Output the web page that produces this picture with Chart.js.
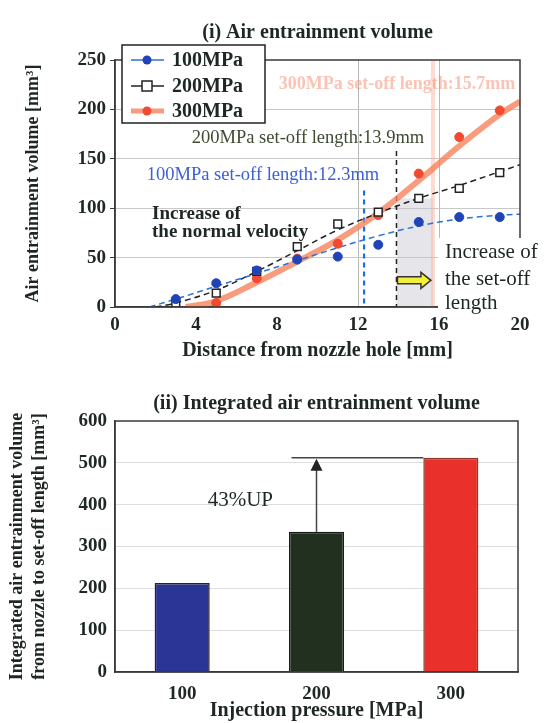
<!DOCTYPE html>
<html><head><meta charset="utf-8">
<script src="https://cdn.jsdelivr.net/npm/chart.js@4.4.0/dist/chart.umd.min.js"></script>
<style>
html,body{margin:0;padding:0;background:#fff;width:550px;height:723px;overflow:hidden;}
#c1{position:absolute;left:0;top:0;}
#c2{position:absolute;left:0;top:370px;}
</style></head><body>
<canvas id="c1" width="550" height="370"></canvas>
<canvas id="c2" width="550" height="353"></canvas>
<script>
// ---------- data ----------
const distances = [3, 5, 7, 9, 11, 13, 15, 17, 19];
const vol100 = [8, 24, 37, 48, 51, 63, 86, 91, 91];
const vol200 = [4, 14, 36, 61, 84, 96, 110, 120, 136];
const vol300 = [0, 4, 29, 49, 64, 93, 135, 172, 199];
const trendX100 = [1.7, 3, 5, 7, 9, 11, 13, 15, 17, 19, 20];
const trend100  = [0, 8, 21, 34, 47, 60, 72, 82, 89, 93, 94];
const trendX200 = [2, 3, 5, 7, 9, 11, 13, 15, 17, 19, 20];
const trend200  = [0, 4, 17, 36, 57, 78, 95, 110, 123, 137, 144];
const trendX300 = [3.5, 5, 7, 9, 11, 13, 15, 17, 19, 20];
const trend300  = [0, 6, 25, 46, 68, 95, 128, 163, 195, 208];
const setoff100 = 12.3, setoff200 = 13.9, setoff300 = 15.7;
const seriesNames = ['100MPa', '200MPa', '300MPa'];
const xTicks1 = [0, 4, 8, 12, 16, 20];
const yTicks1 = [0, 50, 100, 150, 200, 250];
const pressures = ['100', '200', '300'];
const integrated = [213, 335, 512];
const yTicks2 = [0, 100, 200, 300, 400, 500, 600];

// ---------- styles ----------
const SERIF = "'Liberation Serif','Times New Roman',serif";
Chart.defaults.font.family = SERIF;
Chart.defaults.color = '#1e2424';
const TXT = '#1e2626';
const C_BLUE = '#1f44b8', C_BLUE_LINE = '#2a72d8';
const C_BLACK = '#222';
const C_RED = '#f04a30', C_ORANGE = 'rgba(247,128,88,0.78)';
const tickFont = {size: 19, weight: 'bold'};
const axisTitleFont = {size: 20, weight: 'bold'};

const pts = (xs, ys) => xs.map((x, i) => ({x: x, y: ys[i]}));

function frame(chart) {
  const a = chart.chartArea, ctx = chart.ctx;
  ctx.save();
  ctx.strokeStyle = '#3a3a3a'; ctx.lineWidth = 1.5;
  ctx.strokeRect(a.left, a.top, a.right - a.left, a.bottom - a.top);
  ctx.restore();
}

// ---------- top chart annotations ----------
const topPlugin = {
  id: 'topAnn',
  beforeDatasetsDraw(chart) {
    const ctx = chart.ctx, xs = chart.scales.x, ys = chart.scales.y, a = chart.chartArea;
    ctx.save();
    ctx.fillStyle = 'rgba(200,200,208,0.45)';
    const x1 = xs.getPixelForValue(setoff200), x2 = xs.getPixelForValue(setoff300);
    ctx.fillRect(x1, ys.getPixelForValue(110), x2 - x1, ys.getPixelForValue(0) - ys.getPixelForValue(110));
    ctx.strokeStyle = 'rgba(250,175,150,0.45)'; ctx.lineWidth = 4;
    ctx.beginPath(); ctx.moveTo(x2, a.top); ctx.lineTo(x2, a.bottom); ctx.stroke();
    ctx.font = 'bold 18px ' + SERIF;
    ctx.fillStyle = 'rgba(245,135,105,0.5)';
    ctx.textAlign = 'center'; ctx.textBaseline = 'middle';
    ctx.fillText('300MPa set-off length:15.7mm', 397, 84);
    ctx.setLineDash([5, 4]);
    ctx.strokeStyle = '#222'; ctx.lineWidth = 1.5;
    ctx.beginPath(); ctx.moveTo(x1, ys.getPixelForValue(158)); ctx.lineTo(x1, a.bottom); ctx.stroke();
    const xb = xs.getPixelForValue(setoff100);
    ctx.strokeStyle = '#1a6fe0'; ctx.lineWidth = 2.2;
    ctx.beginPath(); ctx.moveTo(xb, ys.getPixelForValue(118)); ctx.lineTo(xb, a.bottom); ctx.stroke();
    ctx.restore();
  },
  afterDatasetsDraw(chart) {
    const ctx = chart.ctx;
    ctx.save();
    ctx.textBaseline = 'middle';
    ctx.textAlign = 'center';
    ctx.font = '18.5px ' + SERIF;
    ctx.fillStyle = '#3e4a32';
    ctx.fillText('200MPa set-off length:13.9mm', 308, 138);
    ctx.fillStyle = '#3a5fd6';
    ctx.fillText('100MPa set-off length:12.3mm', 263, 175);
    ctx.textAlign = 'left';
    ctx.fillStyle = TXT;
    ctx.font = 'bold 19px ' + SERIF;
    ctx.fillText('Increase of', 152, 214);
    ctx.fillText('the normal velocity', 152, 232);
    ctx.restore();
  },
  afterDraw(chart) {
    const ctx = chart.ctx, xs = chart.scales.x, ys = chart.scales.y;
    frame(chart);
    ctx.save();
    ctx.fillStyle = '#fff';
    ctx.fillRect(438, 238, 112, 75);
    ctx.fillStyle = TXT;
    ctx.font = '21px ' + SERIF;
    ctx.textAlign = 'left'; ctx.textBaseline = 'middle';
    ctx.fillText('Increase of', 445, 252);
    ctx.fillText('the set-off', 445, 279);
    ctx.fillText('length', 445, 303);
    // yellow block arrow
    const ax1 = xs.getPixelForValue(setoff200) + 1, ax2 = xs.getPixelForValue(setoff300) - 2;
    const ay = ys.getPixelForValue(27);
    ctx.beginPath();
    ctx.moveTo(ax1, ay - 3.5); ctx.lineTo(ax2 - 10, ay - 3.5); ctx.lineTo(ax2 - 10, ay - 8);
    ctx.lineTo(ax2, ay); ctx.lineTo(ax2 - 10, ay + 8); ctx.lineTo(ax2 - 10, ay + 3.5);
    ctx.lineTo(ax1, ay + 3.5); ctx.closePath();
    ctx.fillStyle = '#f2f03a'; ctx.fill();
    ctx.strokeStyle = '#333'; ctx.lineWidth = 1.5; ctx.stroke();
    // legend
    const lx = 122, ly = 45, lw = 143, lh = 78;
    ctx.fillStyle = '#fff'; ctx.fillRect(lx, ly, lw, lh);
    ctx.strokeStyle = '#222'; ctx.lineWidth = 1.5; ctx.strokeRect(lx, ly, lw, lh);
    const rows = [60, 86, 111];
    const lineStyles = [{c: C_BLUE_LINE, w: 1.5}, {c: C_BLACK, w: 1.5}, {c: C_ORANGE, w: 5}];
    ctx.font = 'bold 20px ' + SERIF;
    for (let i = 0; i < 3; i++) {
      const y = rows[i];
      ctx.strokeStyle = lineStyles[i].c; ctx.lineWidth = lineStyles[i].w;
      ctx.beginPath(); ctx.moveTo(131, y); ctx.lineTo(164, y); ctx.stroke();
      if (i === 1) {
        ctx.fillStyle = '#fff'; ctx.fillRect(142, y - 5, 10, 10);
        ctx.strokeStyle = C_BLACK; ctx.lineWidth = 1.5; ctx.strokeRect(142, y - 5, 10, 10);
      } else {
        ctx.fillStyle = i === 0 ? C_BLUE : C_RED;
        ctx.beginPath(); ctx.arc(147, y, 4.5, 0, Math.PI * 2); ctx.fill();
      }
      ctx.fillStyle = TXT;
      ctx.fillText(seriesNames[i], 172, y + 1);
    }
    ctx.restore();
  }
};

new Chart(document.getElementById('c1'), {
  type: 'scatter',
  data: {
    datasets: [
      {label: seriesNames[0], data: pts(distances, vol100), pointStyle: 'circle', pointRadius: 4.5,
       backgroundColor: C_BLUE, borderColor: C_BLUE, borderWidth: 1},
      {label: seriesNames[1], data: pts(distances, vol200), pointStyle: 'rect', pointRadius: 5.5,
       backgroundColor: '#fff', borderColor: C_BLACK, borderWidth: 1.5},
      {label: seriesNames[2], data: pts(distances, vol300), pointStyle: 'circle', pointRadius: 4.5,
       backgroundColor: C_RED, borderColor: C_RED, borderWidth: 1},
      {label: 'trend100', data: pts(trendX100, trend100), showLine: true, pointRadius: 0,
       borderColor: C_BLUE_LINE, borderWidth: 1.5, borderDash: [6, 4], tension: 0.4},
      {label: 'trend200', data: pts(trendX200, trend200), showLine: true, pointRadius: 0,
       borderColor: C_BLACK, borderWidth: 1.5, borderDash: [6, 4], tension: 0.4},
      {label: 'trend300', data: pts(trendX300, trend300), showLine: true, pointRadius: 0,
       borderColor: C_ORANGE, borderWidth: 6, tension: 0.4}
    ]
  },
  options: {
    responsive: false, animation: false, devicePixelRatio: 1,
    layout: {padding: {left: 23, right: 30, top: 0, bottom: 0}},
    plugins: {
      legend: {display: false}, tooltip: {enabled: false},
      title: {display: true, text: '(i) Air entrainment volume', fullSize: false,
        font: {size: 20, weight: 'bold'}, color: TXT, padding: {top: 21, bottom: 15}}
    },
    scales: {
      x: {
        type: 'linear', min: 0, max: 20,
        afterBuildTicks: s => { s.ticks = xTicks1.map(v => ({value: v})); },
        afterFit: s => { s.height = 63; },
        ticks: {font: tickFont, color: TXT, padding: 7},
        grid: {drawTicks: false,
          color: c => (c.tick && (c.tick.value === 12 || c.tick.value === 16)) ? '#b8b8b8' : 'rgba(0,0,0,0)'},
        border: {display: true, color: '#3a3a3a', width: 1.5},
        title: {display: true, text: 'Distance from nozzle hole [mm]', font: axisTitleFont, color: TXT,
          padding: {top: 0, bottom: 7}}
      },
      y: {
        min: 0, max: 250,
        afterBuildTicks: s => { s.ticks = yTicks1.map(v => ({value: v})); },
        afterFit: s => { s.width = 92; },
        ticks: {font: tickFont, color: TXT, padding: 4},
        grid: {tickLength: 5, tickColor: '#3a3a3a',
          color: c => (c.tick && c.tick.value > 0 && c.tick.value < 250) ? '#c8c8c8' : 'rgba(0,0,0,0)'},
        border: {display: true, color: '#3a3a3a', width: 1.5},
        title: {display: true, text: 'Air entrainment volume [mm³]', font: {size: 18, weight: 'bold'}, color: TXT,
          padding: {top: 0, bottom: 0}}
      }
    }
  },
  plugins: [topPlugin]
});

// ---------- bottom chart ----------
const barPlugin = {
  id: 'barAnn',
  afterDatasetsDraw(chart) {
    const ctx = chart.ctx, xs = chart.scales.x, ys = chart.scales.y;
    const meta = chart.getDatasetMeta(0);
    const red = meta.data[2], green = meta.data[1];
    const yTop = ys.getPixelForValue(integrated[2]);
    ctx.save();
    ctx.strokeStyle = '#444'; ctx.lineWidth = 1.5;
    ctx.beginPath(); ctx.moveTo(green.x - 25, yTop); ctx.lineTo(red.x - red.width / 2, yTop); ctx.stroke();
    ctx.beginPath(); ctx.moveTo(green.x, ys.getPixelForValue(integrated[1])); ctx.lineTo(green.x, yTop + 10); ctx.stroke();
    ctx.fillStyle = '#222';
    ctx.beginPath(); ctx.moveTo(green.x, yTop + 1); ctx.lineTo(green.x - 6, yTop + 13); ctx.lineTo(green.x + 6, yTop + 13);
    ctx.closePath(); ctx.fill();
    ctx.font = '21px ' + SERIF; ctx.fillStyle = TXT;
    ctx.textAlign = 'center'; ctx.textBaseline = 'middle';
    ctx.fillText('43%UP', (xs.getPixelForValue(0) + xs.getPixelForValue(1)) / 2 - 9, ys.getPixelForValue(411));
    ctx.restore();
  },
  afterDraw(chart) { frame(chart); }
};

new Chart(document.getElementById('c2'), {
  type: 'bar',
  data: {
    labels: pressures,
    datasets: [{
      data: integrated,
      backgroundColor: ['#2b3596', '#223020', '#e9302a'],
      borderColor: ['#2a2030', '#1a1a1a', '#8a3a2a'],
      borderWidth: 1.5, barPercentage: 0.41, categoryPercentage: 1
    }]
  },
  options: {
    responsive: false, animation: false, devicePixelRatio: 1,
    layout: {padding: {left: 6, right: 32, top: 0, bottom: 0}},
    plugins: {
      legend: {display: false}, tooltip: {enabled: false},
      title: {display: true, text: '(ii) Integrated air entrainment volume', fullSize: false,
        font: {size: 20, weight: 'bold'}, color: TXT, padding: {top: 22, bottom: 5}}
    },
    scales: {
      x: {
        afterFit: s => { s.height = 51; },
        ticks: {font: tickFont, color: TXT, padding: 3},
        grid: {display: false},
        border: {display: true, color: '#3a3a3a', width: 1.5},
        title: {display: true, text: 'Injection pressure [MPa]', font: axisTitleFont, color: TXT,
          padding: {top: 0, bottom: 0}}
      },
      y: {
        min: 0, max: 600,
        afterBuildTicks: s => { s.ticks = yTicks2.map(v => ({value: v})); },
        afterFit: s => { s.width = 109; },
        ticks: {font: tickFont, color: TXT, padding: 8},
        grid: {drawTicks: false,
          color: c => (c.tick && c.tick.value > 0 && c.tick.value < 600) ? '#dedede' : 'rgba(0,0,0,0)'},
        border: {display: true, color: '#3a3a3a', width: 1.5},
        title: {display: true, text: ['Integrated air entrainment volume', 'from nozzle to set-off length [mm³]'],
          font: {size: 18, weight: 'bold', lineHeight: 1.25}, color: TXT, padding: {top: 0, bottom: 0}}
      }
    }
  },
  plugins: [barPlugin]
});
</script>
</body></html>
